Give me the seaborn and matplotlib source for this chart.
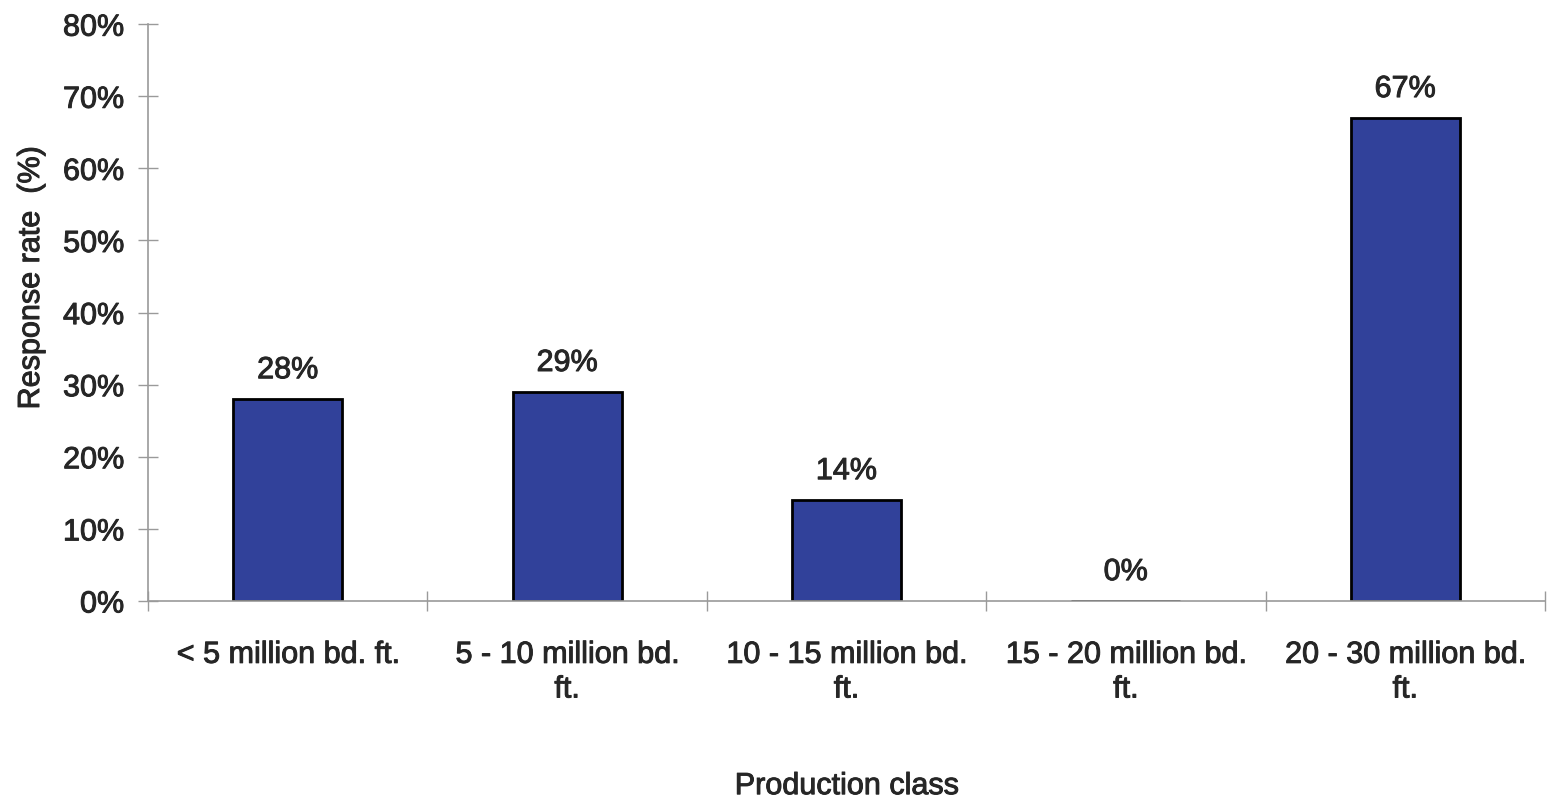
import matplotlib
matplotlib.use("Agg")
import matplotlib.pyplot as plt
import matplotlib.patheffects as pe
import seaborn as sns
import pandas as pd
from matplotlib.ticker import FixedLocator, FuncFormatter

# Response rate by production class
categories = [
    "< 5 million bd. ft.",
    "5 - 10 million bd.\nft.",
    "10 - 15 million bd.\nft.",
    "15 - 20 million bd.\nft.",
    "20 - 30 million bd.\nft.",
]
response_rate = [28, 29, 14, 0, 67]
y_ticks = [0, 10, 20, 30, 40, 50, 60, 70, 80]

sns.set_theme(style="white")
plt.rcParams["font.family"] = ["Liberation Sans", "DejaVu Sans"]

text_color = "#262626"
axis_gray = "#9a9a9a"
bar_color = "#31419A"
fs = 22
heavy = [pe.withStroke(linewidth=0.7, foreground=text_color)]

df = pd.DataFrame({"cls": categories, "rate": response_rate})

fig = plt.figure(figsize=(15.48, 8.07), dpi=100)
ax = fig.add_axes([0.0956, 0.2553, 0.9024, 0.7147])

sns.barplot(data=df, x="cls", y="rate", ax=ax, color=bar_color,
            saturation=1, width=0.39, edgecolor="black", linewidth=2)

ax.set_xlim(-0.5, len(categories) - 0.5)
ax.set_ylim(0, 80)

# Value labels above each bar
for i, v in enumerate(response_rate):
    ax.annotate(f"{v}%", xy=(i, v), xytext=(0, 10), textcoords="offset points",
                ha="center", va="bottom", fontsize=fs, color=text_color,
                path_effects=heavy)

# Y axis
ax.yaxis.set_major_locator(FixedLocator(y_ticks))
ax.yaxis.set_major_formatter(FuncFormatter(lambda v, p: f"{int(v)}%"))
ax.tick_params(axis="y", which="major", left=True, direction="inout", length=14,
               width=1, color=axis_gray, labelsize=fs, labelcolor=text_color, pad=10)

# X axis: labels at category centres, tick marks on category boundaries
ax.set_xticks(range(len(categories)))
ax.set_xticklabels(categories, fontsize=fs, color=text_color, linespacing=1.2)
ax.tick_params(axis="x", which="major", length=0, pad=28)
ax.set_xticks([i - 0.5 for i in range(len(categories) + 1)], minor=True)
ax.tick_params(axis="x", which="minor", direction="inout", length=14,
               width=1, color=axis_gray, bottom=True)

for lbl in ax.get_xticklabels() + ax.get_yticklabels():
    lbl.set_path_effects(heavy)

for side in ["top", "right"]:
    ax.spines[side].set_visible(False)
for side in ["left", "bottom"]:
    ax.spines[side].set_color(axis_gray)
    ax.spines[side].set_linewidth(1.2)

ax.set_xlabel("Production class", fontsize=fs, color=text_color, labelpad=48,
              path_effects=heavy)
ax.set_ylabel("Response rate  (%)", fontsize=fs, color=text_color,
              path_effects=heavy)
ax.yaxis.set_label_coords(-0.073, 0.56)

fig.savefig("out.png", dpi=100, facecolor="white")
